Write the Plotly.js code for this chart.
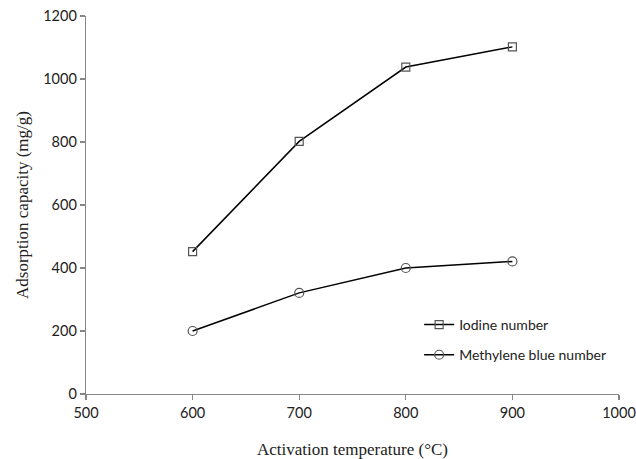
<!DOCTYPE html>
<html>
<head>
<meta charset="utf-8">
<script src="https://cdn.plot.ly/plotly-3.0.1.min.js"></script>
<style>html,body{margin:0;padding:0;background:#fff;}#chart{width:636px;height:459px;}</style>
</head>
<body>
<div id="chart"></div>
<script>
const temperatures = [600, 700, 800, 900];
const iodineNumber = [452, 802, 1038, 1102];
const methyleneBlueNumber = [200, 321, 400, 421];
const seriesNames = ["Iodine number", "Methylene blue number"];
const xTicks = [500, 600, 700, 800, 900, 1000];
const yTicks = [0, 200, 400, 600, 800, 1000, 1200];

const traces = [
  {
    x: temperatures, y: iodineNumber, name: seriesNames[0], legendgroup: "g1",
    mode: "lines+markers", type: "scatter",
    line: {color: "#000", width: 1.5},
    marker: {symbol: "square-open", size: 8, color: "#555", line: {width: 1.2, color: "#555"}}
  },
  {
    x: temperatures, y: methyleneBlueNumber, name: seriesNames[1], legendgroup: "g2",
    mode: "lines+markers", type: "scatter",
    line: {color: "#000", width: 1.5},
    marker: {symbol: "circle-open", size: 9, color: "#555", line: {width: 1.2, color: "#555"}}
  }
];

const axisCommon = {
  showgrid: false, zeroline: false, showline: true,
  linecolor: "#868686", linewidth: 1.3,
  ticks: "outside", ticklen: 5, tickcolor: "#868686", tickwidth: 1.3,
  tickfont: {family: "Lato, 'Open Sans', sans-serif", size: 14.5, color: "#222"}
};

const layout = {
  width: 636, height: 459,
  margin: {l: 86, r: 17, t: 16, b: 65},
  paper_bgcolor: "#fff", plot_bgcolor: "#fff",
  showlegend: true,
  legend: {
    x: 0.625, y: 0.225, xanchor: "left", yanchor: "top",
    font: {family: "Lato, 'Open Sans', sans-serif", size: 14, color: "#222"},
    bgcolor: "rgba(0,0,0,0)", traceorder: "grouped", tracegroupgap: 9, itemwidth: 30
  },
  xaxis: Object.assign({}, axisCommon, {
    range: [500, 1000], tickvals: xTicks, ticktext: xTicks.map(String),
    title: {text: "Activation temperature (°C)", standoff: 24,
      font: {family: "'Liberation Serif', 'Times New Roman', serif", size: 17, color: "#222"}}
  }),
  yaxis: Object.assign({}, axisCommon, {
    range: [0, 1200], tickvals: yTicks, ticktext: yTicks.map(String),
    title: {text: "Adsorption capacity (mg/g)", standoff: 10,
      font: {family: "'Liberation Serif', 'Times New Roman', serif", size: 17, color: "#222"}}
  })
};

Plotly.newPlot("chart", traces, layout, {displayModeBar: false, staticPlot: true});
</script>
</body>
</html>
